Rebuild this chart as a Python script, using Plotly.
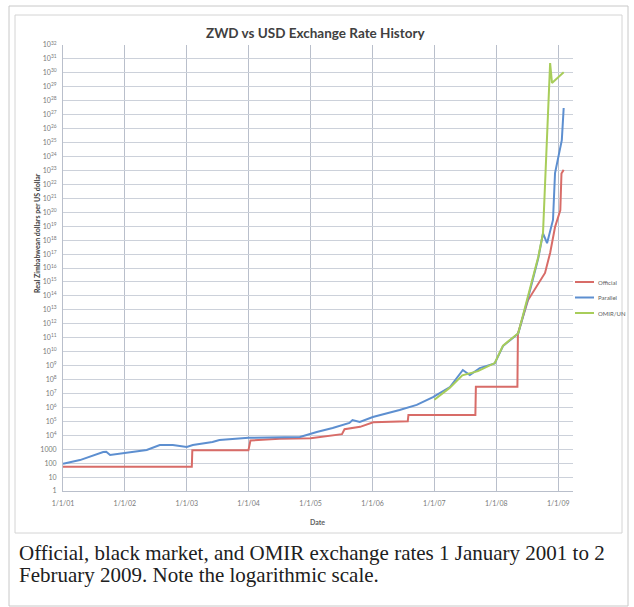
import plotly.graph_objects as go

# ---- data -------------------------------------------------------------
official_dates = ["2001-01-01", "2003-01-31", "2003-02-03", "2003-12-31", "2004-01-12",
                  "2004-07-01", "2005-01-01", "2005-05-01", "2005-07-05", "2005-07-20",
                  "2005-10-20", "2006-01-05", "2006-07-28", "2006-08-01", "2007-08-31",
                  "2007-09-03", "2008-05-05", "2008-05-08", "2008-07-07", "2008-10-15",
                  "2008-11-14", "2008-12-13", "2009-01-13", "2009-01-20", "2009-02-02"]
official_rate = [55, 55, 824, 824, 4200,
                 5600, 6200, 9000, 12000, 27000,
                 40000, 85000, 101000, 280000, 280000,
                 3e7, 3e7, 2e11, 5e13, 4.4e15,
                 1.2e17, 8.7e18, 1.4e20, 6e22, 1.1e23]

parallel_dates = ["2001-01-01", "2001-04-11", "2001-08-26", "2001-09-13", "2001-10-06",
                  "2002-01-12", "2002-05-10", "2002-07-26", "2002-10-11", "2003-01-01",
                  "2003-02-06", "2003-06-02", "2003-07-13", "2004-01-01", "2004-10-30",
                  "2005-02-06", "2005-05-11", "2005-08-18", "2005-09-05", "2005-10-18",
                  "2006-01-03", "2006-06-10", "2006-09-19", "2006-12-24", "2007-04-03",
                  "2007-06-18", "2007-07-29", "2007-09-26", "2007-12-23", "2008-02-10",
                  "2008-05-10", "2008-07-07", "2008-09-05", "2008-10-03", "2008-10-27",
                  "2008-12-01", "2008-12-13", "2009-01-22", "2009-02-02"]
parallel_rate = [90, 165, 630, 650, 380,
                 540, 870, 2000, 2000, 1450,
                 2000, 3300, 4600, 6500, 7400,
                 17000, 33000, 76000, 123000, 89000,
                 204000, 650000, 1.5e6, 5.5e6, 2.9e7,
                 4.8e8, 2.1e8, 6.6e8, 1.4e9, 2.5e10,
                 2e11, 7e13, 5e16, 3e18, 6e17,
                 2.8e19, 6.5e22, 1.5e25, 3e27]

omir_dates = ["2007-01-01", "2007-04-01", "2007-06-15", "2007-09-15", "2007-12-23",
              "2008-02-10", "2008-05-10", "2008-07-07", "2008-09-05", "2008-10-03",
              "2008-11-14", "2008-11-25", "2009-02-02"]
omir_rate = [3.5e6, 2.5e7, 2e8, 4e8, 1.5e9,
             2.7e10, 2.1e11, 8.3e13, 6.2e16, 3.2e18,
             5e30, 1.9e29, 1.1e30]

series_names = ["Official", "Parallel", "OMIR/UN"]
series_colors = ["#d86c68", "#5d8fd0", "#a8cd5a"]

year_ticks = ["2001-01-01", "2002-01-01", "2003-01-01", "2004-01-01", "2005-01-01",
              "2006-01-01", "2007-01-01", "2008-01-01", "2009-01-01"]
year_labels = ["1/1/01", "1/1/02", "1/1/03", "1/1/04", "1/1/05",
               "1/1/06", "1/1/07", "1/1/08", "1/1/09"]

decades = list(range(0, 33))
decade_labels = [str(10 ** n) if n < 4 else f"10<sup>{n}</sup>" for n in decades]

caption_lines = ["Official, black market, and OMIR exchange rates 1 January 2001 to 2",
                 "February 2009. Note the logarithmic scale."]

# ---- page geometry (pixels) ------------------------------------------
W, H = 634, 607
L, R, T, B = 63, 573, 45, 491


def px(x):
    return (x - L) / (R - L)


def py(y):
    return (B - y) / (B - T)


fig = go.Figure()
for name, color, xs, ys in zip(series_names, series_colors,
                               [official_dates, parallel_dates, omir_dates],
                               [official_rate, parallel_rate, omir_rate]):
    fig.add_trace(go.Scatter(x=xs, y=ys, mode="lines", name=name,
                             line=dict(color=color, width=2), showlegend=False))

tick_font = dict(family="Lato, Liberation Sans, sans-serif", size=7, color="#7a7a7a")

fig.update_layout(
    width=W, height=H,
    margin=dict(l=L, r=W - R, t=T, b=H - B),
    paper_bgcolor="white", plot_bgcolor="white",
    xaxis=dict(type="date", range=["2001-01-01", "2009-03-29"],
               tickvals=year_ticks, ticktext=year_labels,
               showgrid=True, gridcolor="#b9bfcb", gridwidth=1,
               showline=True, linecolor="#b9bfcb", zeroline=False,
               tickfont=tick_font, ticks="", ticklabelstandoff=6),
    yaxis=dict(type="log", range=[0, 32],
               tickvals=[10.0 ** n for n in decades], ticktext=decade_labels,
               showgrid=True, gridcolor="#ccd1da", gridwidth=1,
               showline=True, linecolor="#b9bfcb", zeroline=False,
               tickfont=tick_font, ticks="", ticklabelstandoff=4),
    showlegend=False,
)

# chart title and axis titles
fig.add_annotation(text="<b>ZWD vs USD Exchange Rate History</b>", xref="paper", yref="paper",
                   x=px(316), y=py(33), yanchor="middle", showarrow=False,
                   font=dict(family="Lato, Liberation Sans, sans-serif", size=13.5, color="#404040"))
fig.add_annotation(text="<b>Real Zimbabwean dollars per US dollar</b>", xref="paper", yref="paper",
                   x=px(31), y=py(233), yanchor="middle", textangle=-90, showarrow=False,
                   font=dict(family="Lato, Liberation Sans, sans-serif", size=7, color="#404040"))
fig.add_annotation(text="<b>Date</b>", xref="paper", yref="paper",
                   x=px(317), y=py(522), yanchor="middle", showarrow=False,
                   font=dict(family="Lato, Liberation Sans, sans-serif", size=7, color="#606060"))

# legend drawn at the right of the plot
for i, (name, color) in enumerate(zip(series_names, series_colors)):
    yy = 282 + i * 15.5
    fig.add_shape(type="line", xref="paper", yref="paper",
                  x0=px(575), x1=px(594), y0=py(yy), y1=py(yy),
                  line=dict(color=color, width=2))
    fig.add_annotation(text=name, xref="paper", yref="paper", x=px(596), y=py(yy),
                       xanchor="left", yanchor="middle", showarrow=False,
                       font=dict(family="Lato, Liberation Sans, sans-serif", size=6, color="#606060"))

# thumbnail frame and image border
fig.add_shape(type="rect", xref="paper", yref="paper",
              x0=px(9), x1=px(628), y0=py(606), y1=py(6),
              line=dict(color="#c8c8c8", width=1), layer="below")
fig.add_shape(type="rect", xref="paper", yref="paper",
              x0=px(15), x1=px(622), y0=py(533), y1=py(15),
              line=dict(color="#d4d4d4", width=1), layer="below")

# caption
for i, line in enumerate(caption_lines):
    fig.add_annotation(text=line, xref="paper", yref="paper",
                       x=px(17), y=py(553 + i * 22), xanchor="left", yanchor="middle",
                       showarrow=False,
                       font=dict(family="Liberation Serif, serif", size=21, color="#202020"))

fig.write_html("out.html")
